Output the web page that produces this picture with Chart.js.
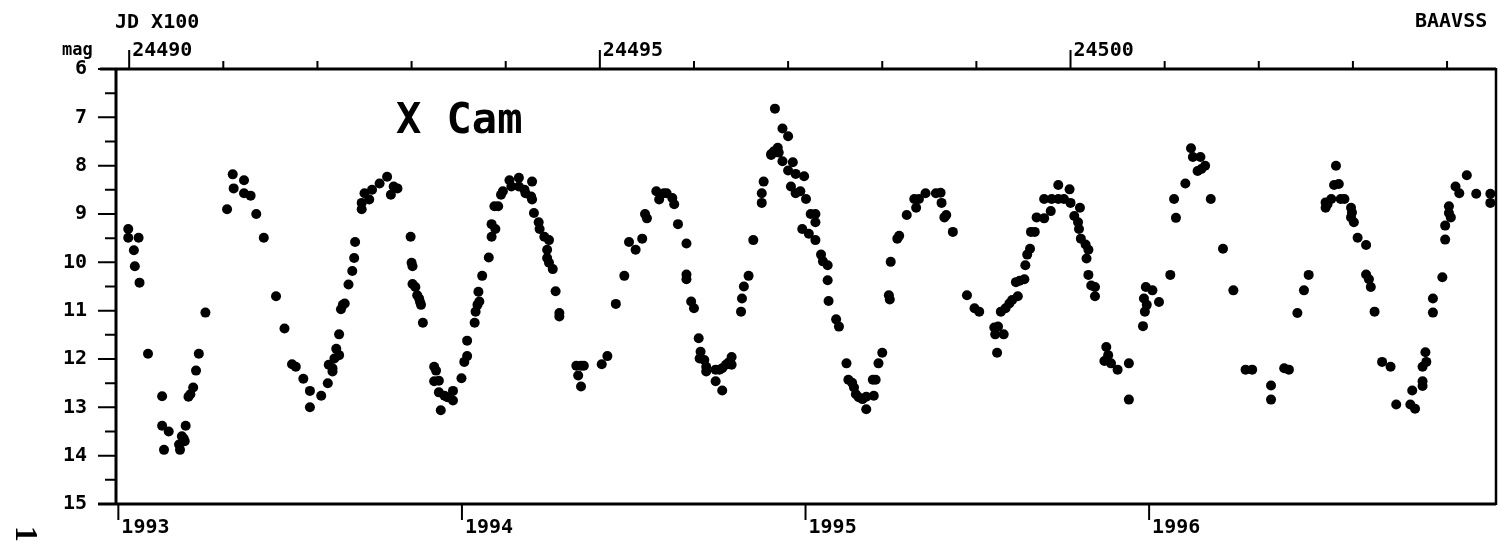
<!DOCTYPE html>
<html>
<head>
<meta charset="utf-8">
<script src="https://cdn.jsdelivr.net/npm/chart.js@4.4.1/dist/chart.umd.min.js"></script>
<style>
    html, body { margin: 0; padding: 0; background: #fff; }
    canvas { display: block; }
</style>
</head>
<body>
<canvas id="xcamChart" width="1501" height="545"></canvas>
<script>
// X Cam visual estimates, JD - 2400000 (one line per cycle)
const jdMinus2400000 = [
    48999, 48999, 49005, 49006, 49010, 49011, 49020, 49035, 49035, 49037, 49042, 49053, 49054, 49056, 49058, 49059, 49060, 49063, 49065, 49068, 49071, 49074, 49081,
    49104, 49110, 49111, 49122, 49122, 49129, 49135, 49143, 49156, 49165, 49173, 49177, 49185, 49192, 49192, 49204, 49211, 49212, 49216, 49216, 49218, 49220, 49223, 49223, 49225, 49227, 49229, 49233, 49237, 49239, 49240, 49247, 49247, 49250, 49255, 49258, 49266, 49274, 49278, 49281, 49285,
    49299, 49300, 49301, 49301, 49304, 49306, 49308, 49309, 49310, 49312, 49324, 49326, 49324, 49329, 49329, 49331, 49335, 49338, 49344, 49344, 49353, 49356, 49359, 49359, 49367, 49368, 49370, 49372, 49371, 49375, 49382, 49385, 49385, 49389, 49388, 49392, 49395, 49397, 49404, 49406, 49414, 49414, 49420, 49421, 49427, 49428, 49428, 49430, 49435, 49436, 49441, 49444, 49444, 49446, 49446, 49450, 49453, 49457, 49457,
    49475, 49477, 49480, 49480, 49483, 49502, 49508, 49517, 49526, 49531, 49538, 49545, 49548, 49550, 49560, 49563, 49568, 49571, 49577, 49579, 49583, 49592, 49592, 49592, 49597, 49600, 49605, 49606, 49607, 49611, 49613, 49613, 49623, 49623, 49627, 49630, 49630, 49634, 49636, 49638, 49640, 49640,
    49650, 49651, 49653, 49658, 49663, 49672, 49672, 49674, 49682, 49682, 49685, 49686, 49689, 49690, 49694, 49694, 49700, 49700, 49703, 49705, 49708, 49708, 49713, 49715, 49717, 49719, 49722, 49724, 49729, 49729, 49729, 49735, 49737, 49742, 49742, 49743, 49751, 49754, 49762, 49764, 49768, 49770, 49772, 49775, 49779, 49783, 49783, 49790, 49791, 49793, 49796, 49800,
    49807, 49808, 49809, 49816, 49818, 49826, 49834, 49836, 49839, 49846, 49857, 49862, 49863, 49866, 49868, 49875, 49890, 49898, 49903, 49919, 49920, 49922, 49923, 49926, 49929, 49931, 49935, 49938, 49942, 49944, 49946, 49951, 49952, 49954, 49957, 49958, 49962, 49964, 49972, 49972, 49979, 49980, 49987, 49987, 49993, 49999, 50000, 50004, 50008, 50009, 50010, 50011, 50016, 50017, 50019, 50019, 50022, 50026, 50026, 50036, 50038, 50040, 50043, 50050, 50062, 50062,
    50077, 50078, 50079, 50080, 50081, 50087, 50094, 50106, 50110, 50112, 50122, 50128, 50130, 50135, 50138, 50139, 50143, 50149, 50162, 50173, 50186, 50193, 50213, 50213, 50227, 50232, 50241, 50248, 50253, 50271, 50271, 50273, 50277, 50280, 50282, 50285, 50287, 50291, 50298, 50298, 50299, 50301, 50305, 50314, 50314, 50317, 50319, 50323, 50331, 50340, 50346, 50361, 50363, 50366, 50374, 50374, 50374, 50377, 50378, 50385, 50385, 50395, 50398, 50398, 50402, 50402, 50404, 50409, 50413, 50421, 50431, 50446, 50446
];
const magnitudes = [
    9.31, 9.49, 9.75, 10.08, 9.49, 10.42, 11.89, 12.77, 13.38, 13.88, 13.50, 13.77, 13.88, 13.60, 13.65, 13.70, 13.38, 12.78, 12.73, 12.59, 12.24, 11.89, 11.04,
    8.90, 8.18, 8.47, 8.30, 8.57, 8.62, 9.00, 9.49, 10.70, 11.37, 12.11, 12.16, 12.41, 12.66, 13.00, 12.76, 12.50, 12.12, 12.19, 12.26, 11.99, 11.79, 11.92, 11.49, 10.97, 10.88, 10.85, 10.46, 10.18, 9.91, 9.58, 8.90, 8.77, 8.57, 8.70, 8.50, 8.37, 8.23, 8.60, 8.43, 8.47,
    9.47, 10.01, 10.08, 10.45, 10.51, 10.68, 10.75, 10.82, 10.88, 11.25, 12.16, 12.24, 12.46, 12.45, 12.69, 13.06, 12.76, 12.79, 12.66, 12.86, 12.40, 12.06, 11.94, 11.62, 11.25, 11.02, 10.88, 10.81, 10.61, 10.28, 9.90, 9.47, 9.21, 9.31, 8.84, 8.84, 8.60, 8.53, 8.30, 8.43, 8.25, 8.43, 8.50, 8.57, 8.64, 8.33, 8.70, 8.98, 9.17, 9.31, 9.47, 9.74, 9.91, 9.54, 10.01, 10.14, 10.60, 11.05, 11.12,
    12.14, 12.34, 12.14, 12.57, 12.14, 12.11, 11.94, 10.86, 10.28, 9.58, 9.74, 9.51, 9.00, 9.09, 8.53, 8.70, 8.57, 8.57, 8.67, 8.80, 9.21, 9.61, 10.25, 10.35, 10.81, 10.95, 11.57, 11.99, 11.85, 12.02, 12.16, 12.26, 12.46, 12.22, 12.22, 12.65, 12.19, 12.12, 12.09, 12.06, 11.96, 12.12,
    11.02, 10.75, 10.50, 10.28, 9.54, 8.77, 8.57, 8.33, 7.76, 7.78, 7.70, 6.82, 7.63, 7.73, 7.23, 7.91, 7.39, 8.10, 8.43, 7.93, 8.17, 8.57, 8.53, 9.31, 8.22, 8.69, 9.41, 9.00, 9.00, 9.17, 9.54, 9.84, 9.98, 10.06, 10.37, 10.80, 11.18, 11.33, 12.09, 12.43, 12.49, 12.59, 12.73, 12.79, 12.83, 12.78, 13.04, 12.43, 12.76, 12.43, 12.09, 11.87,
    10.68, 10.77, 9.99, 9.51, 9.45, 9.02, 8.69, 8.87, 8.69, 8.57, 8.57, 8.56, 8.77, 9.07, 9.02, 9.37, 10.68, 10.95, 11.02, 11.35, 11.49, 11.87, 11.33, 11.02, 11.49, 10.95, 10.85, 10.78, 10.41, 10.70, 10.38, 10.35, 10.06, 9.84, 9.72, 9.37, 9.37, 9.07, 9.09, 8.69, 8.94, 8.69, 8.69, 8.40, 8.69, 8.49, 8.77, 9.04, 9.17, 9.31, 8.87, 9.51, 9.63, 9.92, 9.74, 10.26, 10.48, 10.51, 10.70, 12.04, 11.75, 11.92, 12.09, 12.22, 12.09, 12.84,
    11.32, 10.75, 11.02, 10.51, 10.88, 10.58, 10.82, 10.26, 8.69, 9.08, 8.37, 7.64, 7.82, 8.11, 7.82, 8.07, 8.00, 8.69, 9.72, 10.58, 12.22, 12.22, 12.55, 12.84, 12.19, 12.22, 11.05, 10.58, 10.26, 8.87, 8.76, 8.80, 8.69, 8.40, 8.00, 8.38, 8.69, 8.69, 8.87, 9.07, 8.97, 9.17, 9.49, 9.64, 10.25, 10.35, 10.51, 11.02, 12.06, 12.16, 12.94, 12.94, 12.65, 13.03, 12.46, 12.56, 12.16, 11.86, 12.06, 10.75, 11.04, 10.31, 9.53, 9.24, 8.84, 8.98, 9.07, 8.43, 8.57, 8.20, 8.58, 8.58, 8.77
];

const jdRange = [48986, 50452];
const magRange = [6, 15];
const jdLabelValues = [49000, 49500, 50000];
const jdLabels = ['24490', '24495', '24500'];
const yearStarts = [48988.5, 49353.5, 49718.5, 50083.5];
const yearLabels = ['1993', '1994', '1995', '1996'];

const MONO = "'DejaVu Sans Mono', 'Liberation Mono', monospace";
const tickFont = { family: MONO, size: 20, weight: 'bold' };

const points = jdMinus2400000.map((jd, i) => ({ x: jd, y: magnitudes[i] }));

// axis lines, tick marks and the loose captions
const frameAndTicks = {
    id: 'frameAndTicks',
    afterDraw(chart) {
        const ctx = chart.ctx;
        const area = chart.chartArea;
        const xBottom = chart.scales.x;
        const xTop = chart.scales.xTop;
        const yScale = chart.scales.y;

        ctx.save();
        ctx.strokeStyle = '#000';
        ctx.fillStyle = '#000';

        ctx.lineWidth = 3;
        ctx.beginPath();
        ctx.moveTo(area.left - 16, area.top);
        ctx.lineTo(area.right, area.top);
        ctx.moveTo(area.left - 18, area.bottom);
        ctx.lineTo(area.right, area.bottom);
        ctx.moveTo(area.left, area.top);
        ctx.lineTo(area.left, area.bottom);
        ctx.stroke();

        ctx.lineWidth = 2.5;
        ctx.beginPath();
        ctx.moveTo(area.right, area.top - 1);
        ctx.lineTo(area.right, area.bottom + 1);
        ctx.stroke();

        // magnitude ticks every half mag
        ctx.lineWidth = 2;
        ctx.beginPath();
        for (let m = magRange[0]; m <= magRange[1]; m += 0.5) {
            const py = yScale.getPixelForValue(m);
            const len = Number.isInteger(m) ? 18 : 11;
            ctx.moveTo(area.left - len, py);
            ctx.lineTo(area.left, py);
        }
        // JD ticks every 100 days on top
        for (let jd = 49000; jd <= jdRange[1]; jd += 100) {
            const px = xTop.getPixelForValue(jd);
            const len = jdLabelValues.includes(jd) ? 19 : 8;
            ctx.moveTo(px, area.top);
            ctx.lineTo(px, area.top - len);
        }
        // year starts on the bottom
        yearStarts.forEach(v => {
            const px = xBottom.getPixelForValue(v);
            ctx.moveTo(px, area.bottom);
            ctx.lineTo(px, area.bottom + 16);
        });
        ctx.stroke();

        ctx.textBaseline = 'alphabetic';
        ctx.textAlign = 'left';
        ctx.font = 'bold 20px ' + MONO;
        ctx.fillText('JD X100', 115, 28);
        ctx.fillText('BAAVSS', 1415, 27);
        ctx.font = 'bold 17px ' + MONO;
        ctx.fillText('mag', 62, 55);

        ctx.font = 'bold 42px ' + MONO;
        ctx.fillText('X Cam', 396, 133);

        ctx.translate(24, 534);
        ctx.rotate(Math.PI / 2);
        ctx.textAlign = 'center';
        ctx.textBaseline = 'middle';
        ctx.font = 'bold 32px "Liberation Serif", serif';
        ctx.fillText('1', 0, 0);
        ctx.restore();
    }
};

new Chart(document.getElementById('xcamChart'), {
    type: 'scatter',
    data: {
        datasets: [{
            label: 'X Cam',
            data: points,
            backgroundColor: '#000',
            borderWidth: 0,
            pointRadius: 5,
            pointHoverRadius: 5
        }]
    },
    options: {
        responsive: false,
        animation: false,
        devicePixelRatio: 1,
        layout: { padding: { left: 0, right: 4, top: 0, bottom: 0 } },
        plugins: {
            legend: { display: false },
            tooltip: { enabled: false }
        },
        scales: {
            x: {
                type: 'linear',
                position: 'bottom',
                min: jdRange[0],
                max: jdRange[1],
                grid: { display: false, drawTicks: false },
                border: { display: false },
                afterFit: s => { s.height = 29; },
                afterBuildTicks: s => { s.ticks = yearStarts.map(v => ({ value: v })); },
                ticks: {
                    callback: (v, i) => yearLabels[i],
                    align: 'start',
                    labelOffset: 3,
                    padding: 12,
                    autoSkip: false,
                    maxRotation: 0,
                    minRotation: 0,
                    color: '#000',
                    font: tickFont
                }
            },
            xTop: {
                type: 'linear',
                position: 'top',
                min: jdRange[0],
                max: jdRange[1],
                grid: { display: false, drawTicks: false },
                border: { display: false },
                afterFit: s => { s.height = 69; },
                afterBuildTicks: s => { s.ticks = jdLabelValues.map(v => ({ value: v })); },
                ticks: {
                    callback: (v, i) => jdLabels[i],
                    align: 'start',
                    labelOffset: 3,
                    padding: 6,
                    autoSkip: false,
                    maxRotation: 0,
                    minRotation: 0,
                    color: '#000',
                    font: tickFont
                }
            },
            y: {
                type: 'linear',
                position: 'left',
                reverse: true,
                min: magRange[0],
                max: magRange[1],
                grid: { display: false, drawTicks: false },
                border: { display: false },
                afterFit: s => { s.width = 116; },
                ticks: {
                    stepSize: 1,
                    padding: 29,
                    color: '#000',
                    font: tickFont
                }
            }
        }
    },
    plugins: [frameAndTicks]
});
</script>
</body>
</html>
